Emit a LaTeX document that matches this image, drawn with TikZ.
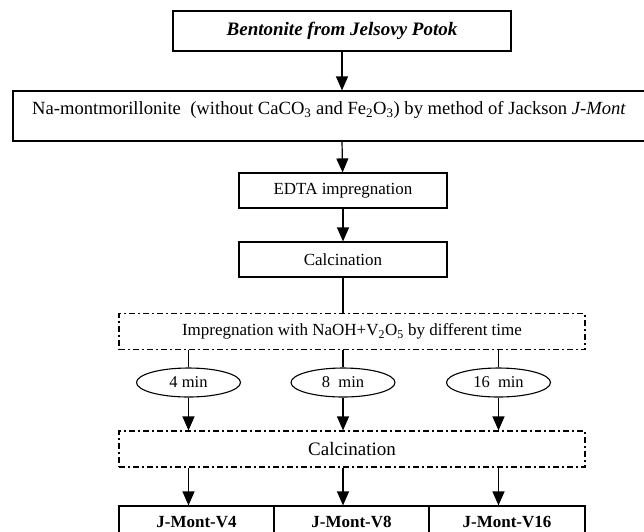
\documentclass[tikz,border=0pt]{standalone}
\usepackage{fontspec}
\setmainfont{Liberation Serif}
\usetikzlibrary{arrows.meta,shapes.geometric}
\tikzset{
  box/.style={draw, line width=1.2pt, inner sep=0pt, font=\fontsize{17}{20}\selectfont},
  dashbox/.style={box, dash pattern=on 6pt off 3pt on 2pt off 3pt},
  oval/.style={draw, ellipse, line width=1.1pt, inner sep=0pt, minimum width=104pt, minimum height=29pt, font=\fontsize{16.5}{19}\selectfont},
  arr/.style={line width=1.2pt, -{Triangle[length=14pt,width=12pt]}}
}
\begin{document}
\begin{tikzpicture}[x=1pt,y=-1pt]
  \useasboundingbox (0,0) rectangle (644,531);
  \node[box, minimum width=338pt, minimum height=40pt, font=\fontsize{19}{22}\selectfont] (bent) at (342,31)
    {\textbf{\textit{Bentonite from Jelsovy Potok}}};
  \node[box, minimum width=658pt, minimum height=50pt] (namont) at (342,116) {};
  \node[anchor=west, inner sep=0pt, font=\fontsize{18.6}{21}\selectfont] (namonttext) at (32,110)
    {Na-montmorillonite\ \ (without CaCO\textsubscript{3} and Fe\textsubscript{2}O\textsubscript{3}) by method of Jackson \textit{J-Mont}};
  \node[box, minimum width=208pt, minimum height=35pt] (edta) at (343,190.5) {EDTA impregnation};
  \node[box, minimum width=208pt, minimum height=35pt] (calc) at (343,259.5) {Calcination};
  \node[dashbox, minimum width=466pt, minimum height=36pt] (imp) at (352,331.5)
    {Impregnation with NaOH+V\textsubscript{2}O\textsubscript{5} by different time};
  \node[oval] (t4) at (188.5,382.5) {4 min};
  \node[oval] (t8) at (343,382.5) {8\ \ min};
  \node[oval] (t16) at (498.5,382.5) {16\ \ min};
  \node[dashbox, minimum width=466pt, minimum height=36pt, font=\fontsize{19}{22}\selectfont] (calcb) at (352,449) {Calcination};
  \node[box, minimum width=155pt, minimum height=32pt] (v4) at (196.5,522) {\textbf{J-Mont-V4}};
  \node[box, minimum width=155pt, minimum height=32pt] (v8) at (351.5,522) {\textbf{J-Mont-V8}};
  \node[box, minimum width=156pt, minimum height=32pt] (v16) at (507,522) {\textbf{J-Mont-V16}};
  \begin{scope}[arr]
    \draw (bent) -- (namont);
    \draw (namont.south) -- (edta);
    \draw (edta) -- (calc);
    \draw (t4) -- (t4.south |- calcb.north);
    \draw (t8) -- (t8.south |- calcb.north);
    \draw (t16) -- (t16.south |- calcb.north);
    \draw (t4.south |- calcb.south) -- (t4.south |- v4.north);
    \draw (t8.south |- calcb.south) -- (t8.south |- v8.north);
    \draw (t16.south |- calcb.south) -- (t16.south |- v16.north);
  \end{scope}
  \begin{scope}[line width=1.2pt]
    \draw (calc) -- (calc.south |- imp.north);
    \draw (t4.north |- imp.south) -- (t4);
    \draw (t8.north |- imp.south) -- (t8);
    \draw (t16.north |- imp.south) -- (t16);
  \end{scope}
\end{tikzpicture}
\end{document}
